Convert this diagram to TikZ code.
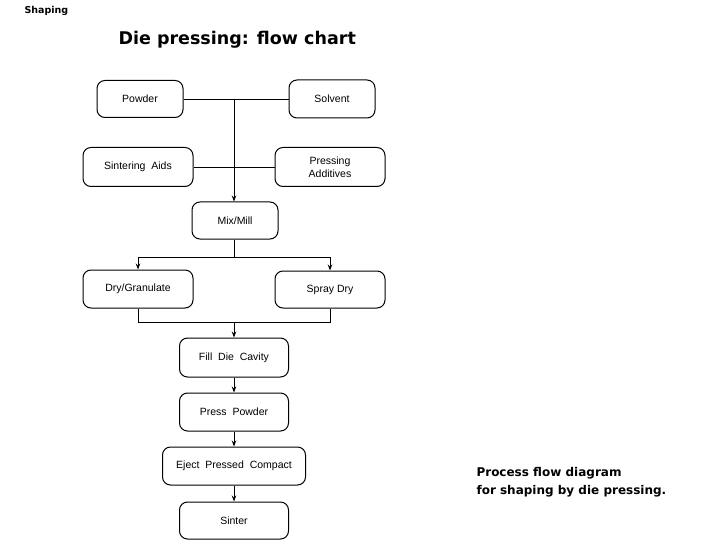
\documentclass[tikz,border=0pt]{standalone}
\usepackage{fontspec}
\setmainfont{Liberation Sans}
\newfontfamily\titlefont{DejaVu Sans}
\usetikzlibrary{arrows.meta}
\begin{document}
\begin{tikzpicture}[x=1pt,y=-1pt,
  box/.style={draw=black,line width=1pt,rounded corners=8pt,align=center,inner sep=1pt,font=\fontsize{10.5}{12.5}\selectfont},
  conn/.style={draw=black,line width=0.9pt},
  arr/.style={conn,-{Stealth[length=6pt,width=4.5pt]}}]
\useasboundingbox (0,0) rectangle (720,540);
\node[anchor=west,font=\titlefont\bfseries\fontsize{9.5}{10}\selectfont] (shaping) at (21,11) {Shaping};
\node[anchor=west,font=\titlefont\bfseries\fontsize{17.5}{20}\selectfont] (title) at (115,40) {Die pressing: flow chart};
\node[anchor=north west,align=left,font=\titlefont\bfseries\fontsize{12}{18}\selectfont] (cap) at (473,464) {Process flow diagram\\for shaping by die pressing.};

\node[box,minimum width=86pt,minimum height=37pt] (powder) at (140,99) {Powder};
\node[box,minimum width=86pt,minimum height=38pt] (solvent) at (332,99) {Solvent};
\node[box,minimum width=110pt,minimum height=39pt] (sint) at (138,167) {Sintering\ \ Aids};
\node[box,minimum width=110pt,minimum height=39pt] (padd) at (330,167) {Pressing\\Additives};
\node[box,minimum width=86pt,minimum height=37pt] (mix) at (235,220.5) {Mix/Mill};
\node[box,minimum width=110pt,minimum height=38pt] (dry) at (138,289) {Dry/Granulate};
\node[box,minimum width=110pt,minimum height=37pt] (spray) at (330,289.5) {Spray\ Dry};
\node[box,minimum width=109pt,minimum height=39pt] (fill) at (234,357.5) {Fill\ \ Die\ \ Cavity};
\node[box,minimum width=109pt,minimum height=38pt] (pressp) at (234,412) {Press\ \ Powder};
\node[box,minimum width=143pt,minimum height=38pt] (eject) at (234,466) {Eject\ \ Pressed\ \ Compact};
\node[box,minimum width=109pt,minimum height=37pt] (sinter) at (234,520.5) {Sinter};

\coordinate (j1) at (234,99);
\coordinate (j2) at (234,257);
\coordinate (bl) at (138,257);
\coordinate (br) at (330,257);
\coordinate (ml) at (138,322);
\coordinate (mr) at (330,322);
\coordinate (j3) at (234,322);

\draw[conn] (powder.east) -- (solvent.west);
\draw[conn] (sint.east) -- (padd.west);
\draw[arr] (j1) -- (j1 |- mix.north);
\draw[conn] (j1 |- mix.south) -- (j2);
\draw[conn] (bl) -- (br);
\draw[arr] (bl) -- (dry.north);
\draw[arr] (br) -- (spray.north);
\draw[conn] (dry.south) -- (ml) -- (mr) -- (spray.south);
\draw[arr] (j3) -- (fill.north);
\draw[arr] (fill.south) -- (pressp.north);
\draw[arr] (pressp.south) -- (eject.north);
\draw[arr] (eject.south) -- (sinter.north);
\end{tikzpicture}
\end{document}
